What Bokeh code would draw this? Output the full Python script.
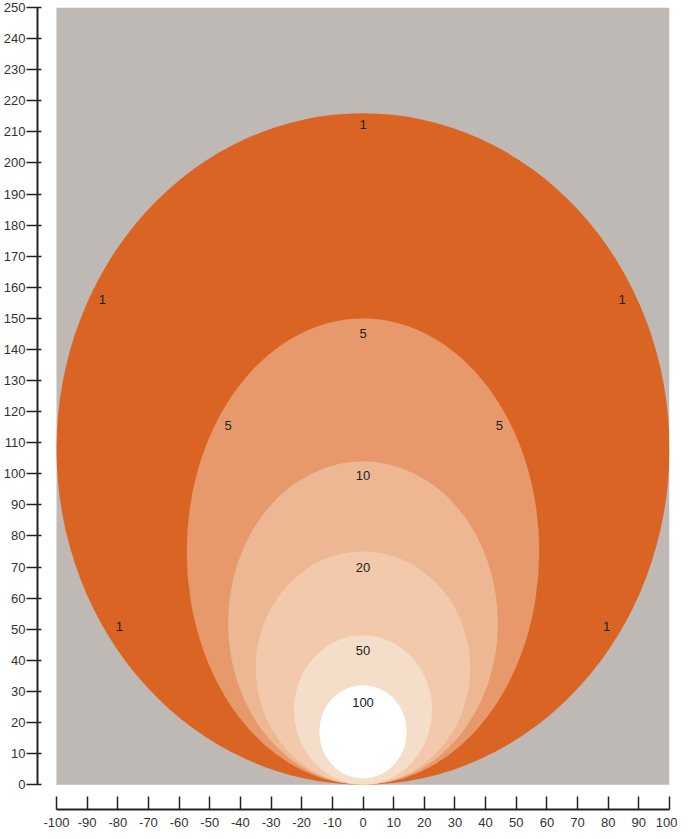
from bokeh.plotting import figure
from bokeh.models import Range1d, FixedTicker, ColumnDataSource, LinearAxis
from bokeh.core.properties import value
from bokeh.embed import file_html
from bokeh.resources import INLINE

# Nested ellipses (largest first), all resting on y = 0
levels = ["1", "5", "10", "20", "50", "100"]
ell_width = [200, 115, 88, 70, 45, 28.5]
ell_height = [216, 150, 104, 75, 48, 30]
ell_cy = [108, 75, 52, 37.5, 24, 17]
ell_colors = ["#DA6424", "#E8996B", "#EDB793", "#F2C9AA", "#F5DEC9", "#FFFFFF"]

# Labels on contours
lab_text = ["1", "1", "1", "1", "1", "5", "5", "5", "10", "20", "50", "100"]
lab_x = [0, -85, 84.5, -79.5, 79.5, 0, -44, 44.5, 0, 0, 0, 0]
lab_y = [212.5, 156, 156, 51, 51, 145, 115.5, 115.5, 99.5, 70, 43, 26.5]

x_ticks = list(range(-100, 101, 10))
y_ticks = list(range(0, 251, 10))

FONT = "Liberation Sans"

p = figure(width=677, height=829, output_backend="svg", toolbar_location=None,
           x_range=Range1d(-106.2, 100), y_range=Range1d(-8, 250),
           x_axis_type=None, y_axis_type=None,
           min_border_top=7, min_border_right=8, min_border_left=0, min_border_bottom=0)
p.outline_line_color = None
p.grid.visible = False
p.background_fill_color = "white"
p.border_fill_color = "white"

# gray panel
p.quad(left=[-100], right=[100], bottom=[0], top=[250], fill_color="#BFB9B6", line_color=None)

src = ColumnDataSource(dict(x=[0] * len(levels), y=ell_cy, w=ell_width, h=ell_height, c=ell_colors))
p.ellipse(x="x", y="y", width="w", height="h", fill_color="c", line_color=None, source=src)

p.text(x=lab_x, y=lab_y, text=lab_text, text_align="center", text_baseline="middle",
       text_font=value(FONT), text_font_size="13px", text_color="#222222")

xa = LinearAxis(ticker=FixedTicker(ticks=x_ticks), bounds=(-100, 100))
xa.major_label_overrides = {t: str(t) for t in x_ticks}
xa.axis_line_width = 2
xa.axis_line_color = "#222222"
xa.major_tick_in = 13
xa.major_tick_out = 0
xa.major_tick_line_width = 1.5
xa.major_tick_line_color = "#222222"
xa.minor_tick_line_color = None
xa.major_label_standoff = 8
xa.major_label_text_font = FONT
xa.major_label_text_font_size = "13px"
xa.major_label_text_color = "#333333"
p.add_layout(xa, "below")

ya = LinearAxis(ticker=FixedTicker(ticks=y_ticks), bounds=(0, 250))
ya.major_label_overrides = {t: str(t) for t in y_ticks}
ya.axis_line_width = 2
ya.axis_line_color = "#222222"
ya.major_tick_in = 4
ya.major_tick_out = 11
ya.major_tick_line_width = 1.5
ya.major_tick_line_color = "#222222"
ya.minor_tick_line_color = None
ya.major_label_standoff = 1
ya.major_label_text_font = FONT
ya.major_label_text_font_size = "13px"
ya.major_label_text_color = "#333333"
p.add_layout(ya, "left")

open("out.html", "w").write(file_html(p, INLINE))
